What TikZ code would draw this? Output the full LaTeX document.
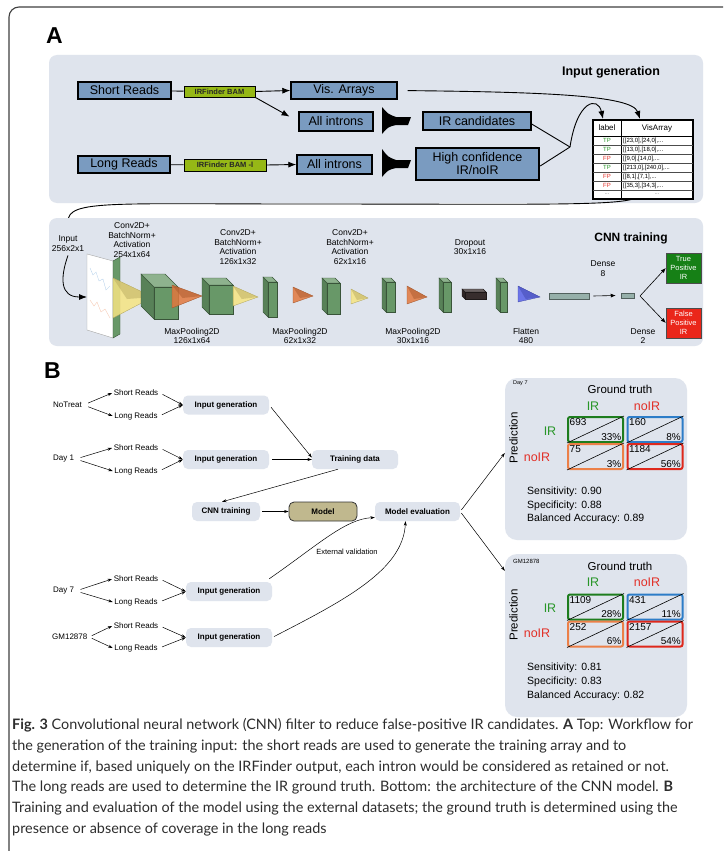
\documentclass[tikz,border=0pt]{standalone}
\usepackage{fontspec}
\setmainfont{Liberation Sans}
\newfontfamily\capfont{Lato}
\usepackage{tikz}
\usetikzlibrary{arrows.meta}

\definecolor{panelgray}{RGB}{223,228,237}
\definecolor{boxblue}{RGB}{122,155,192}
\definecolor{limegreen}{RGB}{150,184,22}
\definecolor{cubegreen}{RGB}{104,152,104}
\definecolor{dropgray}{RGB}{55,45,45}
\definecolor{kernyellow}{RGB}{246,228,130}
\definecolor{kernorange}{RGB}{226,120,62}
\definecolor{kernblue}{RGB}{88,98,232}
\definecolor{densegray}{RGB}{150,176,170}
\definecolor{tpgreen}{RGB}{22,128,22}
\definecolor{fpred}{RGB}{234,38,26}
\definecolor{modelkhaki}{RGB}{192,184,142}
\definecolor{irgreen}{RGB}{40,150,40}
\definecolor{noirred}{RGB}{226,48,40}
\definecolor{cellgreen}{RGB}{30,125,30}
\definecolor{cellblue}{RGB}{45,125,200}
\definecolor{cellorange}{RGB}{236,128,72}
\definecolor{cellred}{RGB}{222,40,28}
\definecolor{captext}{RGB}{45,45,45}

% layer block: x, y (front top left), width, height, depth, colour
\newcommand{\layerblock}[6]{%
  \filldraw[fill=#6!85!black, draw=#6!55!black, line width=0.4pt] (#1,#2) -- ++(-#5,-#5) -- ++(0,#4) -- ++(#5,#5) -- cycle;
  \filldraw[fill=#6!75!white, draw=#6!55!black, line width=0.4pt] (#1,#2) -- ++(-#5,-#5) -- ++(#3,0) -- ++(#5,#5) -- cycle;
  \filldraw[fill=#6, draw=#6!55!black, line width=0.4pt] (#1,#2) rectangle ++(#3,#4);
}
% kernel cone: x base, y top, y bottom, x apex, y apex, colour
\newcommand{\kernelcone}[6]{%
  \filldraw[fill=#6, draw=#6!70!black, line width=0.3pt, fill opacity=0.85] (#1,#2) -- (#4,#5) -- (#1,#3) -- cycle;
  \fill[#6!75!black, fill opacity=0.5] (#1,#2) -- (#4,#5) -- ({#1+(#4-#1)*0.35},{#5+2}) -- cycle;
}

\begin{document}
\begin{tikzpicture}[x=1pt, y=-1pt,
    abox/.style={draw=black, fill=boxblue, line width=1.4pt, inner sep=0pt, font=\fontsize{12.5}{14}\selectfont},
    irf/.style={draw=black, fill=limegreen, line width=1pt, inner sep=0pt, font=\bfseries\fontsize{7.5}{8}\selectfont, text=black!85},
    arr/.style={-{Latex[length=8pt, width=6pt]}, line width=0.9pt},
    lbl/.style={font=\fontsize{8.5}{9.5}\selectfont, align=center, inner sep=0pt},
    btxt/.style={font=\fontsize{8}{9}\selectfont, inner sep=1.5pt},
    bbox/.style={fill=panelgray, rounded corners=5pt, minimum height=19pt, inner sep=0pt, font=\bfseries\fontsize{8}{9}\selectfont},
    sarr/.style={-{Stealth[length=4.5pt, width=3pt]}, line width=0.5pt},
    cell/.style={draw=#1, line width=2pt, rounded corners=2pt, minimum width=55pt, minimum height=25pt, inner sep=0pt},
    cellnum/.style={font=\fontsize{10}{11}\selectfont, inner sep=2.5pt},
    hdr/.style={font=\fontsize{12.5}{14}\selectfont, inner sep=0pt},
    stat/.style={font=\fontsize{10.5}{12}\selectfont, anchor=west, inner sep=0pt},
    tbltxt/.style={font=\fontsize{6}{7}\selectfont, inner sep=0pt},
    capline/.style={font=\capfont\fontsize{14.4}{16}\selectfont, text=captext, anchor=base west, inner sep=0pt}
  ]
  \path[use as bounding box, fill=white] (0,0) rectangle (723,851);

  % Frame
  \draw[line width=1.1pt, black!75, rounded corners=10pt] (723,7) -- (9,7) -- (9,851);
  \node[font=\bfseries\fontsize{23}{24}\selectfont] (labA) at (54.5,36) {A};

  % Input generation
  \fill[panelgray, rounded corners=8pt] (49,55) rectangle (703,203);
  \node[font=\bfseries\fontsize{12.5}{14}\selectfont] (ingen) at (611,72) {Input generation};

  \node[abox, minimum width=93pt, minimum height=17pt] (short) at (124.5,90.5) {Short Reads};
  \node[irf, minimum width=71pt, minimum height=11pt] (irf1) at (219.5,91.5) {IRFinder BAM};
  \node[abox, minimum width=106pt, minimum height=17pt] (vis) at (344,90.5) {Vis. Arrays};
  \node[abox, minimum width=74pt, minimum height=19pt] (allin1) at (336,121.5) {All introns};
  \node[abox, minimum width=92pt, minimum height=17pt] (long) at (124,164.5) {Long Reads};
  \node[irf, minimum width=82pt, minimum height=12pt] (irf2) at (225,165) {IRFinder BAM -l};
  \node[abox, minimum width=75pt, minimum height=19pt] (allin2) at (334.5,164.5) {All introns};
  \node[abox, minimum width=108pt, minimum height=18pt] (irc) at (477,121) {IR candidates};
  \node[abox, line width=2.4pt, minimum width=123pt, minimum height=32pt, align=center, font=\fontsize{12.5}{13}\selectfont] (hiconf) at (477.5,164) {High confidence\\IR/noIR};

  % funnels
  \fill (382,107) .. controls (388,114) .. (396,117) -- (411,117) -- (408,125) -- (396,125) .. controls (388,127) .. (382,134) -- cycle;
  \fill (382,149) .. controls (388,157) .. (396,160) -- (411,160) -- (408,168) -- (396,168) .. controls (388,170) .. (382,177) -- cycle;

  % table
  \node[draw, line width=1.2pt, fill=white, minimum width=100pt, minimum height=79pt, inner sep=0pt] (tbl) at (643,159.5) {};
  \draw[line width=0.8pt] (621,120) -- (621,199);
  \draw[line width=0.8pt] (593,136) -- (693,136);
  \draw[line width=0.4pt, black!70] (593,145) -- (693,145);
  \draw[line width=0.4pt, black!70] (593,154) -- (693,154);
  \draw[line width=0.4pt, black!70] (593,163) -- (693,163);
  \draw[line width=0.4pt, black!70] (593,172) -- (693,172);
  \draw[line width=0.4pt, black!70] (593,181) -- (693,181);
  \draw[line width=0.4pt, black!70] (593,190) -- (693,190);
  \node[tbltxt, font=\fontsize{8}{9}\selectfont] (thlab) at (607,128) {label};
  \node[tbltxt, font=\fontsize{8}{9}\selectfont] (thvis) at (657,128) {VisArray};
  \node[tbltxt, text=irgreen] (r1l) at (607,140.5) {TP};
  \node[tbltxt, text=irgreen] (r2l) at (607,149.5) {TP};
  \node[tbltxt, text=noirred] (r3l) at (607,158.5) {FP};
  \node[tbltxt, text=irgreen] (r4l) at (607,167.5) {TP};
  \node[tbltxt, text=noirred] (r5l) at (607,176.5) {FP};
  \node[tbltxt, text=noirred] (r6l) at (607,185.5) {FP};
  \node[tbltxt, text=black!50] (r7l) at (607,194.5) {...};
  \node[tbltxt, anchor=west] (r1v) at (623,140.5) {[[23,0],[24,0],...};
  \node[tbltxt, anchor=west] (r2v) at (623,149.5) {[[13,0],[18,0],...};
  \node[tbltxt, anchor=west] (r3v) at (623,158.5) {[[9,0],[14,0],...};
  \node[tbltxt, anchor=west] (r4v) at (623,167.5) {[[213,0],[240,0],...};
  \node[tbltxt, anchor=west] (r5v) at (623,176.5) {[[8,1],[7,1],...};
  \node[tbltxt, anchor=west] (r6v) at (623,185.5) {[[35,3],[34,3],...};
  \node[tbltxt, text=black!50] (r7v) at (657,194.5) {...};
  \coordinate (tblvis) at (640,119);
  \coordinate (tbllab) at (603,119);
  \coordinate (tblout) at (633,199);
  \coordinate (merge) at (570,147);
  \coordinate (cnnin) at (68,229);

  % Edges
  \draw[line width=0.9pt] (short) -- (irf1);
  \draw[arr] (irf1.east) -- (vis.west);
  \draw[arr, shorten >=10pt] (irf1.south east) -- (allin1.west);
  \draw[line width=0.9pt] (long) -- (irf2);
  \draw[arr] (irf2.east) -- (allin2.west);
  \draw[arr, shorten <=10pt] (vis.east) .. controls (540,92) and (632,95) .. (tblvis);
  \draw[line width=0.9pt] ([yshift=-3pt]irc.east) -- (merge);
  \draw[line width=0.9pt] ([yshift=-2pt]hiconf.east) -- (merge);
  \draw[arr] (merge) .. controls (577,100) and (598,96) .. (tbllab);
  \draw[arr] (tblout) .. controls (610,206) and (520,204) .. (300,204) .. controls (110,204) and (68,200) .. (cnnin);

  % CNN training
  \fill[panelgray, rounded corners=8pt] (49,218) rectangle (703,346);
  \node[font=\bfseries\fontsize{12}{14}\selectfont] (cnntitle) at (631,238) {CNN training};

  \node[lbl] (inlab) at (68,243.5) {Input\\256x2x1};
  \coordinate (slabin) at (87,297);
  \draw[arr, line width=0.8pt] ([yshift=-4pt]inlab.south) .. controls (60,278) and (60,297) .. (slabin);

  % input slab
  \filldraw[fill=white, draw=black!35, line width=0.4pt] (87,254) -- (113,261) -- (113,338) -- (87,330) -- cycle;
  \draw[cellblue!40, line width=0.3pt] (90,268) -- (93,275) -- (96,272) -- (99,281) -- (103,279) -- (106,290) -- (110,286);
  \draw[cellorange!45, line width=0.3pt] (90,300) -- (94,306) -- (97,302) -- (101,312) -- (105,309) -- (110,318);
  \filldraw[fill=cubegreen, draw=cubegreen!55!black, line width=0.4pt] (113,261) -- (120,257) -- (120,334) -- (113,338) -- cycle;

  % layers
  \kernelcone{113}{278}{318}{153}{297}{kernyellow}
  \layerblock{154}{287}{24}{32}{13}{cubegreen}
  \kernelcone{172}{285}{308}{202}{296}{kernorange}
  \layerblock{209}{285}{24}{29}{7}{cubegreen}
  \kernelcone{233}{286}{306}{258}{297}{kernyellow}
  \layerblock{268}{282}{9}{35}{5}{cubegreen}
  \kernelcone{293}{287}{303}{313}{296}{kernorange}
  \layerblock{327}{283}{13}{31}{5}{cubegreen}
  \kernelcone{351}{289}{304}{368}{298}{kernyellow}
  \layerblock{386}{282}{9}{30}{4}{cubegreen}
  \kernelcone{407}{286}{304}{427}{297}{kernorange}
  \layerblock{443}{282}{8}{30}{4}{cubegreen}
  \layerblock{465}{292}{21}{7}{3}{dropgray}
  \layerblock{500}{282}{7}{30}{4}{cubegreen}
  \kernelcone{518}{286}{302}{540}{297}{kernblue}

  \node[draw=densegray!55!black, fill=densegray, line width=0.5pt, minimum width=40pt, minimum height=6pt, inner sep=0pt] (dense8) at (569,296) {};
  \node[draw=densegray!55!black, fill=densegray, line width=0.5pt, minimum width=13pt, minimum height=5pt, inner sep=0pt] (dense2) at (627.5,295.5) {};
  \node[draw=black!70, fill=tpgreen, minimum width=35pt, minimum height=30pt, inner sep=0pt, align=center, text=white, font=\fontsize{7.5}{9}\selectfont] (tp) at (683.5,268) {True\\Positive\\IR};
  \node[draw=black!70, fill=fpred, minimum width=35pt, minimum height=30pt, inner sep=0pt, align=center, text=white, font=\fontsize{7.5}{9}\selectfont] (fp) at (683.5,323) {False\\Positive\\IR};
  \coordinate (split) at (640,296);
  \draw[arr, line width=0.6pt, -{Latex[length=5pt, width=4pt]}] (dense8.east) ++(4,0) -- ([xshift=-5pt]dense2.west);
  \draw[arr, line width=0.6pt, -{Latex[length=5pt, width=4pt]}] (split) -- (tp.west);
  \draw[arr, line width=0.6pt, -{Latex[length=5pt, width=4pt]}] (split) -- (fp.west);

  \node[lbl] (lconv1) at (132,240) {Conv2D+\\BatchNorm+\\Activation\\254x1x64};
  \node[lbl] (lconv2) at (238,247) {Conv2D+\\BatchNorm+\\Activation\\126x1x32};
  \node[lbl] (lconv3) at (350,247) {Conv2D+\\BatchNorm+\\Activation\\62x1x16};
  \node[lbl] (ldrop) at (470,247) {Dropout\\30x1x16};
  \node[lbl] (ldense8) at (603,268.5) {Dense\\8};
  \node[lbl] (lpool1) at (192,336) {MaxPooling2D\\126x1x64};
  \node[lbl] (lpool2) at (300,336) {MaxPooling2D\\62x1x32};
  \node[lbl] (lpool3) at (413,336) {MaxPooling2D\\30x1x16};
  \node[lbl] (lflat) at (526,336) {Flatten\\480};
  \node[lbl] (ldense2) at (643,336) {Dense\\2};

  % B: workflow
  \node[font=\bfseries\fontsize{23}{24}\selectfont] (labB) at (52.5,370.5) {B};

  \node[btxt, anchor=west] (nt) at (51.5,405) {NoTreat};
  \node[btxt] (nts) at (136,393) {Short Reads};
  \node[btxt] (ntl) at (136,416) {Long Reads};
  \node[bbox, minimum width=86pt] (ig1) at (226,405) {Input generation};
  \node[btxt, anchor=west] (d1) at (51.5,459) {Day 1};
  \node[btxt] (d1s) at (136,448) {Short Reads};
  \node[btxt] (d1l) at (136,471) {Long Reads};
  \node[bbox, minimum width=86pt] (ig2) at (226,459.5) {Input generation};
  \node[btxt, anchor=west] (d7d) at (51.5,591) {Day 7};
  \node[btxt] (d7s) at (136,579) {Short Reads};
  \node[btxt] (d7l) at (136,602) {Long Reads};
  \node[bbox, minimum width=86pt] (ig3) at (229,591.5) {Input generation};
  \node[btxt, anchor=west] (gm) at (50.5,637) {GM12878};
  \node[btxt] (gms) at (136,626) {Short Reads};
  \node[btxt] (gml) at (136,648) {Long Reads};
  \node[bbox, minimum width=86pt] (ig4) at (229,637.5) {Input generation};

  \node[bbox, minimum width=86pt] (train) at (355,459.5) {Training data};
  \node[bbox, minimum width=68pt] (cnn) at (226,511.5) {CNN training};
  \node[bbox, minimum width=68pt, draw=black!80, line width=0.8pt, fill=modelkhaki] (model) at (323,511.5) {Model};
  \node[bbox, minimum width=85pt] (meval) at (417.5,511.5) {Model evaluation};
  \node[btxt, font=\fontsize{7.5}{9}\selectfont] (extval) at (347,552) {External validation};

  \draw[sarr, shorten <=5pt] (nt.east) -- (nts.west);
  \draw[sarr, shorten <=5pt] (nt.east) -- (ntl.west);
  \draw[sarr, shorten <=3pt] (nts.east) -- (ig1.west);
  \draw[sarr, shorten <=3pt] (ntl.east) -- (ig1.west);
  \draw[sarr, shorten <=5pt] (d1.east) -- (d1s.west);
  \draw[sarr, shorten <=5pt] (d1.east) -- (d1l.west);
  \draw[sarr, shorten <=3pt] (d1s.east) -- (ig2.west);
  \draw[sarr, shorten <=3pt] (d1l.east) -- (ig2.west);
  \draw[sarr, shorten <=5pt] (d7d.east) -- (d7s.west);
  \draw[sarr, shorten <=5pt] (d7d.east) -- (d7l.west);
  \draw[sarr, shorten <=3pt] (d7s.east) -- (ig3.west);
  \draw[sarr, shorten <=3pt] (d7l.east) -- (ig3.west);
  \draw[sarr, shorten <=3pt] (gm.east) -- (gms.west);
  \draw[sarr, shorten <=3pt] (gm.east) -- (gml.west);
  \draw[sarr, shorten <=3pt] (gms.east) -- (ig4.west);
  \draw[sarr, shorten <=3pt] (gml.east) -- (ig4.west);

  \draw[sarr, shorten <=3pt] (ig1.east) -- ([yshift=2pt]train.west);
  \draw[sarr, shorten <=3pt] (ig2.east) -- (train.west);
  \draw[sarr] ([xshift=-17pt]train.south) -- ([xshift=-4pt]cnn.north);
  \draw[sarr, shorten <=2pt] (cnn.east) -- (model.west);
  \draw[sarr] ([xshift=-3pt, yshift=3pt]ig3.north east) .. controls (318,545) and (345,519) .. ([yshift=-6pt]meval.west);
  \draw[sarr, shorten <=2pt] (ig4.east) .. controls (345,600) and (403,570) .. ([xshift=-12pt]meval.south);

  % B: evaluation panels
  \node[fill=panelgray, rounded corners=12pt, minimum width=182pt, minimum height=162pt, inner sep=0pt] (d7p) at (596,459) {};
  \node[fill=panelgray, rounded corners=12pt, minimum width=182pt, minimum height=163pt, inner sep=0pt] (gmp) at (596,635.5) {};
  \draw[sarr, shorten <=2pt] (meval.east) -- ([yshift=6pt]d7p.west);
  \draw[sarr, shorten <=2pt] (meval.east) -- ([yshift=-17pt]gmp.north west);

  \node[font=\fontsize{5.5}{6}\selectfont, anchor=west, inner sep=0pt] (d7name) at (513,383) {Day 7};
  \node[font=\fontsize{11.5}{13}\selectfont, inner sep=0pt] (d7gt) at (620,389) {Ground truth};
  \node[hdr, text=irgreen] (d7cir) at (593,406) {IR};
  \node[hdr, text=noirred] (d7cno) at (647,406) {noIR};
  \node[font=\fontsize{11.5}{13}\selectfont, rotate=90, inner sep=0pt] (d7pred) at (513.5,438) {Prediction};
  \node[hdr, text=irgreen] (d7rir) at (550,431) {IR};
  \node[hdr, text=noirred] (d7rno) at (537,457) {noIR};
  \node[cell=cellgreen] (d7a) at (595.5,429.5) {};
  \node[cell=cellblue] (d7b) at (655,429.5) {};
  \node[cell=cellorange] (d7c) at (595.5,456.5) {};
  \node[cell=cellred] (d7e) at (655,456.5) {};
  \draw[line width=0.6pt] (d7a.south west) -- (d7a.north east);
  \draw[line width=0.6pt] (d7b.south west) -- (d7b.north east);
  \draw[line width=0.6pt] (d7c.south west) -- (d7c.north east);
  \draw[line width=0.6pt] (d7e.south west) -- (d7e.north east);
  \node[cellnum, anchor=north west] (d7an) at (d7a.north west) {693};
  \node[cellnum, anchor=south east] (d7ap) at (d7a.south east) {33\%};
  \node[cellnum, anchor=north west] (d7bn) at (d7b.north west) {160};
  \node[cellnum, anchor=south east] (d7bp) at (d7b.south east) {8\%};
  \node[cellnum, anchor=north west] (d7cn) at (d7c.north west) {75};
  \node[cellnum, anchor=south east] (d7cp) at (d7c.south east) {3\%};
  \node[cellnum, anchor=north west] (d7en) at (d7e.north west) {1184};
  \node[cellnum, anchor=south east] (d7ep) at (d7e.south east) {56\%};
  \node[stat] (d7sens) at (527,492) {Sensitivity: 0.90};
  \node[stat] (d7spec) at (527,505.5) {Specificity: 0.88};
  \node[stat] (d7bacc) at (527,519) {Balanced Accuracy: 0.89};

  \node[font=\fontsize{6}{7}\selectfont, anchor=west, inner sep=0pt] (gmname) at (513,561) {GM12878};
  \node[font=\fontsize{11.5}{13}\selectfont, inner sep=0pt] (gmgt) at (620,566) {Ground truth};
  \node[hdr, text=irgreen] (gmcir) at (593,582) {IR};
  \node[hdr, text=noirred] (gmcno) at (647,582) {noIR};
  \node[font=\fontsize{11.5}{13}\selectfont, rotate=90, inner sep=0pt] (gmpred) at (513.5,615) {Prediction};
  \node[hdr, text=irgreen] (gmrir) at (550,608) {IR};
  \node[hdr, text=noirred] (gmrno) at (537,633) {noIR};
  \node[cell=cellgreen] (gma) at (595.5,607) {};
  \node[cell=cellblue] (gmb) at (655,607) {};
  \node[cell=cellorange] (gmc) at (595.5,634) {};
  \node[cell=cellred] (gme) at (655,634) {};
  \draw[line width=0.6pt] (gma.south west) -- (gma.north east);
  \draw[line width=0.6pt] (gmb.south west) -- (gmb.north east);
  \draw[line width=0.6pt] (gmc.south west) -- (gmc.north east);
  \draw[line width=0.6pt] (gme.south west) -- (gme.north east);
  \node[cellnum, anchor=north west] (gman) at (gma.north west) {1109};
  \node[cellnum, anchor=south east] (gmap) at (gma.south east) {28\%};
  \node[cellnum, anchor=north west] (gmbn) at (gmb.north west) {431};
  \node[cellnum, anchor=south east] (gmbp) at (gmb.south east) {11\%};
  \node[cellnum, anchor=north west] (gmcn) at (gmc.north west) {252};
  \node[cellnum, anchor=south east] (gmcp) at (gmc.south east) {6\%};
  \node[cellnum, anchor=north west] (gmen) at (gme.north west) {2157};
  \node[cellnum, anchor=south east] (gmep) at (gme.south east) {54\%};
  \node[stat] (gmsens) at (527,668) {Sensitivity: 0.81};
  \node[stat] (gmspec) at (527,682) {Specificity: 0.83};
  \node[stat] (gmbacc) at (527,696) {Balanced Accuracy: 0.82};

  % Caption
  \node[capline] (cap1) at (12,729) {\textbf{Fig. 3} Convolutional neural network (CNN) filter to reduce false-positive IR candidates. \textbf{A} Top: Workflow for};
  \node[capline] (cap2) at (12,750) {the generation of the training input: the short reads are used to generate the training array and to};
  \node[capline] (cap3) at (12,771) {determine if, based uniquely on the IRFinder output, each intron would be considered as retained or not.};
  \node[capline] (cap4) at (12,791) {The long reads are used to determine the IR ground truth. Bottom: the architecture of the CNN model. \textbf{B}};
  \node[capline] (cap5) at (12,812) {Training and evaluation of the model using the external datasets; the ground truth is determined using the};
  \node[capline] (cap6) at (12,833) {presence or absence of coverage in the long reads};
\end{tikzpicture}
\end{document}
